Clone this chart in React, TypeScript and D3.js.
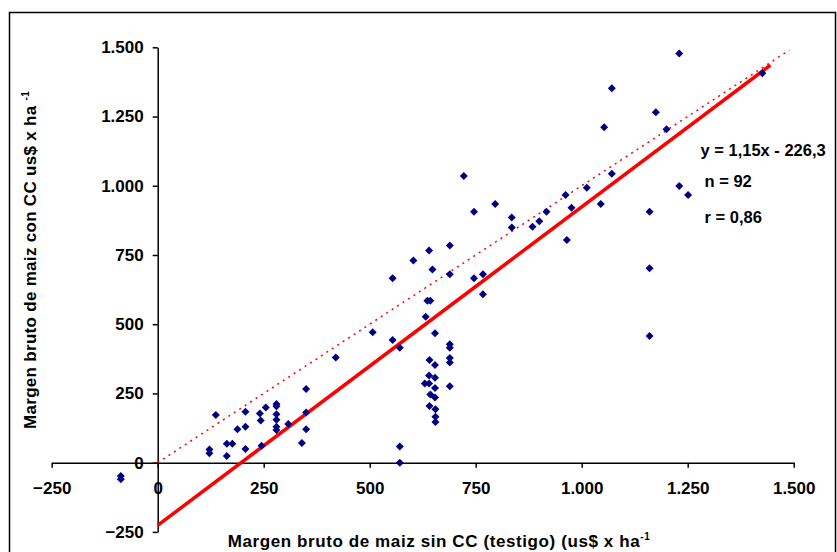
import { useRef, useEffect } from "react";
import * as d3 from "d3";

// Margen bruto sin CC (testigo), eje x
const testigo = [
  -87, -87, 122, 122, 137, 163, 176, 163, 188, 207, 207, 207, 241, 243, 245, 255,
  280, 280, 280, 280, 280, 280, 308, 340, 350, 350, 350, 420, 507, 554, 554, 571,
  571, 571, 603, 636, 643, 640, 648, 689, 689, 632, 654, 689, 689, 689, 689, 689,
  641, 654, 640, 654, 630, 640, 654, 643, 654, 641, 655, 655, 655, 722, 746, 746,
  767, 767, 796, 835, 835, 884, 900, 917, 962, 976, 965, 1012, 1045, 1071, 1071, 1053,
  1160, 1160, 1160, 1175, 1200, 1230, 1230, 1251, 1426,
];
// Margen bruto con CC, eje y
const conCC = [
  -48, -60, 48, 34, 172, 68, 68, 24, 121, 184, 130, 49, 178, 152, 61, 199,
  212, 204, 175, 155, 130, 118, 140, 71, 266, 181, 121, 380, 471, 443, 666, 415,
  58, 0, 730, 585, 585, 766, 698, 784, 680, 527, 467, 428, 415, 378, 362, 276,
  371, 353, 315, 307, 286, 286, 270, 246, 235, 205, 193, 166, 147, 1035, 906, 666,
  680, 608, 934, 885, 849, 852, 872, 906, 967, 921, 804, 993, 934, 1043, 1352, 1211,
  906, 702, 457, 1265, 1204, 1478, 999, 967, 1406,
];

const ticks = [-250, 0, 250, 500, 750, 1000, 1250, 1500];
const pendiente = 1.15;
const ordenada = -226.3;
const rectaX = [0, 1445];
const unoAUnoX = [0, 1490];
const anotaciones = ["y = 1,15x - 226,3", "n = 92", "r = 0,86"];

const fmt = (v: number) => d3.format(",")(v).replace(/,/g, ".");

const App = () => {
  const svgRef = useRef<SVGSVGElement>(null);

  useEffect(() => {
    const svg = d3.select(svgRef.current);
    svg.selectAll("*").remove();

    const width = 837;
    const height = 552;
    const font = "'Liberation Sans', Arial, sans-serif";

    const x = d3.scaleLinear().domain([-250, 1500]).range([51.7, 793.7]);
    const y = d3.scaleLinear().domain([-250, 1500]).range([531.9, 47.3]);

    svg.attr("width", width).attr("height", height);

    // marco
    svg
      .append("rect")
      .attr("x", 9.5)
      .attr("y", 12.5)
      .attr("width", 826)
      .attr("height", 600)
      .attr("fill", "#fff")
      .attr("stroke", "#000")
      .attr("stroke-width", 1.5);

    // eje y
    const gy = svg
      .append("g")
      .attr("transform", `translate(${x(0)},0)`)
      .call(
        d3.axisLeft(y).tickValues(ticks).tickSize(5).tickSizeOuter(0).tickPadding(9).tickFormat((d) => fmt(+d))
      );
    // eje x
    const gx = svg
      .append("g")
      .attr("transform", `translate(0,${y(0)})`)
      .call(
        d3.axisBottom(x).tickValues(ticks).tickSize(5).tickSizeOuter(0).tickFormat((d) => fmt(+d))
      );
    gx.selectAll("text").attr("y", 19.5);
    [gx, gy].forEach((g) => {
      g.selectAll("path, line").attr("stroke", "#000").attr("stroke-width", 1.5);
      g.selectAll("text")
        .attr("font-family", font)
        .attr("font-size", 17)
        .attr("font-weight", "bold")
        .attr("fill", "#000");
    });

    // linea 1:1
    svg
      .append("line")
      .attr("x1", x(unoAUnoX[0]))
      .attr("y1", y(unoAUnoX[0]))
      .attr("x2", x(unoAUnoX[1]))
      .attr("y2", y(unoAUnoX[1]))
      .attr("stroke", "#ff0000")
      .attr("stroke-width", 1.5)
      .attr("stroke-dasharray", "2,4.5");

    // recta de regresion
    svg
      .append("line")
      .attr("x1", x(rectaX[0]))
      .attr("y1", y(pendiente * rectaX[0] + ordenada))
      .attr("x2", x(rectaX[1]))
      .attr("y2", y(pendiente * rectaX[1] + ordenada))
      .attr("stroke", "#ff0000")
      .attr("stroke-width", 3.5);

    // puntos
    const r = 4;
    svg
      .append("g")
      .selectAll("path")
      .data(testigo)
      .enter()
      .append("path")
      .attr("d", `M0,${-r}L${r},0L0,${r}L${-r},0Z`)
      .attr("transform", (d, i) => `translate(${x(d)},${y(conCC[i])})`)
      .attr("fill", "#000080");

    // anotaciones
    const ax = [700.5, 704.5, 704.5];
    const ay = [155.5, 187, 222.5];
    anotaciones.forEach((t, i) => {
      svg
        .append("text")
        .attr("x", ax[i])
        .attr("y", ay[i])
        .attr("font-family", font)
        .attr("font-size", 16.5)
        .attr("font-weight", "bold")
        .text(t);
    });

    // titulos de ejes
    const tx = svg
      .append("text")
      .attr("x", 439)
      .attr("y", 547)
      .attr("text-anchor", "middle")
      .attr("font-family", font)
      .attr("font-size", 17)
      .attr("letter-spacing", 0.6)
      .attr("font-weight", "bold");
    tx.append("tspan").text("Margen bruto de maiz sin CC (testigo) (us$ x ha");
    tx.append("tspan").attr("font-size", 10).attr("dy", -7).text("-1");

    const ty = svg
      .append("text")
      .attr("transform", "translate(36,260) rotate(-90)")
      .attr("text-anchor", "middle")
      .attr("font-family", font)
      .attr("font-size", 17)
      .attr("letter-spacing", 0.3)
      .attr("font-weight", "bold");
    ty.append("tspan").text("Margen bruto de maiz con CC us$ x ha ");
    ty.append("tspan").attr("font-size", 10).attr("dy", -7).text("-1");
  }, []);

  return (
    <svg
      ref={svgRef}
      style={{ position: "absolute", left: 0, top: 0, display: "block" }}
    ></svg>
  );
};

export default App;
